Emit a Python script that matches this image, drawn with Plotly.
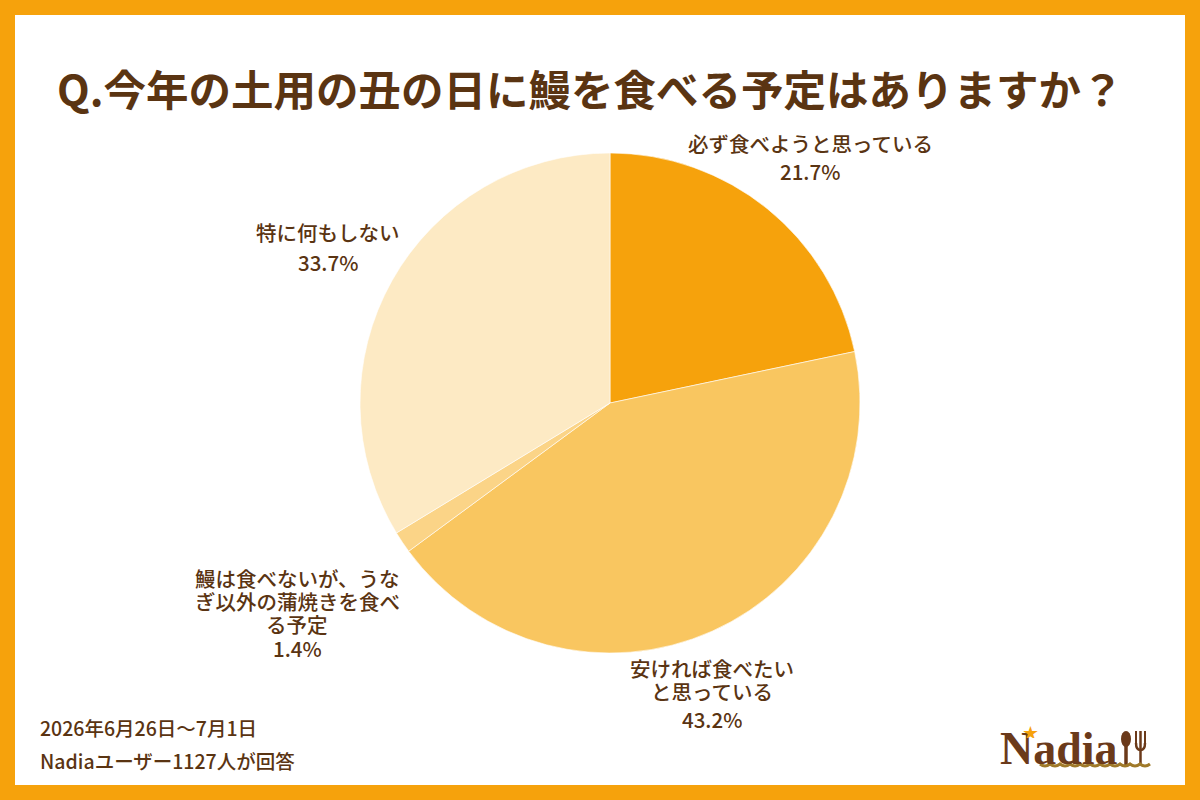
import plotly.graph_objects as go

# ---- data ----
categories = [
    "必ず食べようと思っている",
    "安ければ食べたい<br>と思っている",
    "鰻は食べないが、うな<br>ぎ以外の蒲焼きを食べ<br>る予定",
    "特に何もしない",
]
values = [21.7, 43.2, 1.4, 33.7]
colors = ["#F6A20C", "#F9C660", "#FBD487", "#FDEAC4"]
title_text = "Q.今年の土用の丑の日に鰻を食べる予定はありますか？"
footer_lines = ["2026年6月26日～7月1日", "Nadiaユーザー1127人が回答"]

W, H = 1200, 800
BROWN = "#5A3412"
FONT = "Noto Sans CJK JP"

# label layout: (centre x, first line y, percent y) in pixels
label_pos = [
    (810, 143, 171),
    (712, 668, 719),
    (297, 578, 648),
    (328, 232, 262),
]
LINE_STEP = 23

fig = go.Figure()
fig.add_trace(go.Pie(
    labels=[c.replace("<br>", "") for c in categories],
    values=values,
    sort=False,
    direction="clockwise",
    rotation=0,
    marker=dict(colors=colors, line=dict(color="rgba(255,255,255,0.6)", width=1)),
    textinfo="none",
    hoverinfo="label+percent",
    showlegend=False,
    domain=dict(x=[360 / W, 860 / W], y=[1 - 653 / H, 1 - 153 / H]),
))


def px(x):
    return x / W


def py(y):
    return 1 - y / H


def txt(text, x, y, size, xanchor="center", color=BROWN, family=FONT, weight=500, height=None):
    d = dict(text=text, x=px(x), y=py(y), xref="paper", yref="paper",
             showarrow=False, align="center",
             font=dict(family=family, size=size, color=color, weight=weight),
             xanchor=xanchor, yanchor="middle")
    if height is not None:
        d["height"] = height
    return d


annotations = [txt(title_text, 590, 88, 42.5, weight=700)]
for cat, val, (lx, ly, ply) in zip(categories, values, label_pos):
    for i, line in enumerate(cat.split("<br>")):
        annotations.append(txt(line, lx, ly + LINE_STEP * i, 20.5, height=22))
    annotations.append(txt(f"{val:.1f}%", lx, ply, 20.5, height=22))
for i, line in enumerate(footer_lines):
    annotations.append(txt(line, 38, 727 + 33 * i, 19.5, xanchor="left"))

# logo
annotations.append(txt("<b>Nadia</b>", 998, 748, 46, xanchor="left", color="#6B3A1A",
                       family="Liberation Serif", weight=700))
annotations.append(txt("★", 1030, 731, 15, color="#F6A20C", height=14))

LOGO = "#6B3A1A"
shapes = [
    dict(type="rect", xref="paper", yref="paper", x0=px(15), x1=px(1185), y0=py(785), y1=py(15),
         fillcolor="white", line=dict(width=0), layer="below"),
    # spoon
    dict(type="circle", xref="paper", yref="paper", x0=px(1121), x1=px(1131), y0=py(747), y1=py(731),
         fillcolor=LOGO, line=dict(width=0)),
    dict(type="line", xref="paper", yref="paper", x0=px(1126), x1=px(1126), y0=py(745), y1=py(766),
         line=dict(color=LOGO, width=3.5)),
    # fork
    dict(type="line", xref="paper", yref="paper", x0=px(1136), x1=px(1136), y0=py(731), y1=py(744),
         line=dict(color=LOGO, width=2)),
    dict(type="line", xref="paper", yref="paper", x0=px(1140.5), x1=px(1140.5), y0=py(731), y1=py(766),
         line=dict(color=LOGO, width=2.5)),
    dict(type="line", xref="paper", yref="paper", x0=px(1145), x1=px(1145), y0=py(731), y1=py(744),
         line=dict(color=LOGO, width=2)),
    dict(type="path", xref="paper", yref="paper",
         path=f"M {px(1136)},{py(743)} Q {px(1136)},{py(750)} {px(1140.5)},{py(750)} "
              f"Q {px(1145)},{py(750)} {px(1145)},{py(743)}",
         line=dict(color=LOGO, width=2.5)),
    # wavy underline
    dict(type="path", xref="paper", yref="paper",
         path=" ".join(
             [f"M {px(1040)},{py(764)}"] +
             [f"Q {px(1040 + 10 * k + 5)},{py(768)} {px(1040 + 10 * (k + 1))},{py(764)}" for k in range(11)]
         ),
         line=dict(color="#A07A2A", width=3)),
]

fig.update_layout(
    width=W, height=H,
    margin=dict(l=0, r=0, t=0, b=0),
    paper_bgcolor="#F6A20C",
    plot_bgcolor="white",
    annotations=annotations,
    shapes=shapes,
)

fig.write_html("out.html")
